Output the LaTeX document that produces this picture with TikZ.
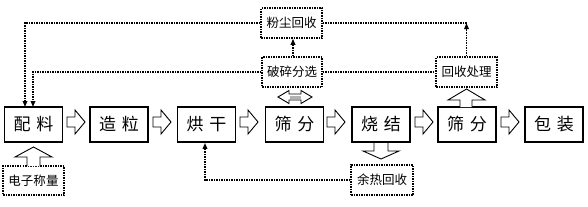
\documentclass[tikz,border=0pt]{standalone}
\usepackage{fontspec}
\setmainfont{Noto Sans CJK SC}
\usetikzlibrary{arrows.meta}
\tikzset{
  mainbox/.style={draw, line width=1.7pt, minimum width=58pt, minimum height=35pt, inner sep=0pt, font=\fontsize{17pt}{18pt}\selectfont},
  subbox/.style={draw, line width=1.5pt, dash pattern=on 1.5pt off 1pt, minimum height=30pt, inner sep=0pt, font=\fontsize{12.5pt}{14pt}\selectfont},
  dotline/.style={line width=1.5pt, dash pattern=on 1.5pt off 1pt},
  dotarrow/.style={dotline, -{Triangle[length=6pt,width=4.5pt]}},
  blockarrow/.style={draw, line width=0.9pt, fill=white, line join=miter}
}
\newcommand{\blkRight}[2]{%
  \draw[blockarrow] (#1,#2-5) -- (#1+8,#2-5) -- (#1+8,#2-12) -- (#1+18,#2) -- (#1+8,#2+12) -- (#1+8,#2+5) -- (#1,#2+5) -- cycle;}
\begin{document}
\begin{tikzpicture}[x=1pt,y=-1pt]
\useasboundingbox (0,0) rectangle (588,206);
% main boxes
\node[mainbox] (pl) at (33.5,124.5) {配\hspace{6pt}料};
\node[mainbox] (zl) at (119,124.5) {造\hspace{6pt}粒};
\node[mainbox] (hg) at (206.5,124.5) {烘\hspace{6pt}干};
\node[mainbox] (sf1) at (294.5,124.5) {筛\hspace{6pt}分};
\node[mainbox] (sj) at (381,124.5) {烧\hspace{6pt}结};
\node[mainbox] (sf2) at (467,124.5) {筛\hspace{6pt}分};
\node[mainbox] (bz) at (554,124.5) {包\hspace{6pt}装};
% sub boxes
\node[subbox, minimum width=61pt, minimum height=29pt] (dz) at (33.5,180.5) {电子称量};
\node[subbox, minimum width=61pt] (fc) at (291.5,23) {粉尘回收};
\node[subbox, minimum width=60pt] (ps) at (292,72) {破碎分选};
\node[subbox, minimum width=61pt] (hs) at (466.5,72) {回收处理};
\node[subbox, minimum width=62pt] (yr) at (382,180) {余热回收};
% block arrows between main boxes
\blkRight{67}{122}
\blkRight{153}{122}
\blkRight{240}{122}
\blkRight{327}{122}
\blkRight{415}{122}
\blkRight{501}{122}
% up arrow into 配料
\draw[blockarrow] (27,166) -- (27,157) -- (15,157) -- (33.5,147) -- (52,157) -- (40,157) -- (40,166);
% down arrow from 烧结
\draw[blockarrow] (374,143) -- (374,151) -- (363,151) -- (381,159) -- (399,151) -- (388,151) -- (388,143);
% up arrow into 回收处理
\draw[blockarrow] (460,107) -- (460,100) -- (448,100) -- (466.5,89) -- (485,100) -- (472,100) -- (472,107);
% double arrow between 筛分 and 破碎分选
\draw[blockarrow] (278,97) -- (289,90.5) -- (289,94) -- (301,94) -- (301,90.5) -- (312,97) -- (301,103.5) -- (301,100) -- (289,100) -- (289,103.5) -- cycle;
\fill[gray!60] (289.5,95.5) rectangle (300.5,98.5);
% dotted connectors
\draw[dotarrow] (fc.west) -- (25,23) -- (25,107);
\draw[dotarrow] (ps.west) -- (33,72) -- (33,107);
\draw[dotarrow] (ps.north -| 293,0) -- (fc.south -| 293,0);
\coordinate (corner) at (466.5,23);
\draw[dotline] (fc.east) -- (corner);
\draw[dotarrow] (hs.north) -- (corner);
\draw[dotline] (ps.east) -- (hs.west);
\draw[dotarrow] (yr.west) -- (205,180) -- (hg.south -| 205,0);
\end{tikzpicture}
\end{document}
